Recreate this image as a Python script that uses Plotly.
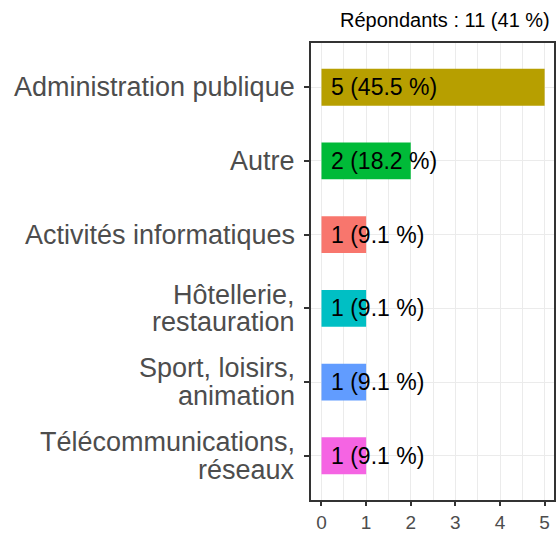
import plotly.graph_objects as go

categories = ["Administration publique", "Autre", "Activités informatiques",
              "Hôtellerie,<br>restauration", "Sport, loisirs,<br>animation",
              "Télécommunications,<br>réseaux"]
counts = [5, 2, 1, 1, 1, 1]
percents = [45.5, 18.2, 9.1, 9.1, 9.1, 9.1]
colors = ["#B79F00", "#00BA38", "#F8766D", "#00BFC4", "#619CFF", "#F564E3"]
title_text = "Répondants : 11 (41 %)"
x_ticks = [0, 1, 2, 3, 4, 5]

LINE_H = 27.5

fig = go.Figure()
fig.add_trace(go.Bar(
    x=counts, y=categories, orientation="h", width=0.5,
    marker=dict(color=colors, line=dict(width=0)),
    hoverinfo="skip", showlegend=False,
))

for c, n, p in zip(categories, counts, percents):
    fig.add_annotation(
        x=0, y=c, xref="x", yref="y", xanchor="left", yanchor="middle",
        xshift=8, showarrow=False,
        text=f"{n} ({p:.1f} %)",
        font=dict(family="Liberation Sans, Arial", size=23, color="#000000"),
    )

# category labels (with tighter line spacing than plotly's tick labels)
for c in categories:
    lines = c.split("<br>")
    k = len(lines)
    for i, ln in enumerate(lines):
        fig.add_annotation(
            x=0, y=c, xref="paper", yref="y", xanchor="right", yanchor="middle",
            xshift=-14, yshift=((k - 1) / 2 - i) * LINE_H, showarrow=False,
            text=ln,
            font=dict(family="Liberation Sans, Arial", size=27, color="#4D4D4D"),
        )

fig.add_annotation(
    x=1, y=1, xref="paper", yref="paper", xanchor="right", yanchor="bottom",
    xshift=-2, yshift=10, showarrow=False, text=title_text,
    font=dict(family="Liberation Sans, Arial", size=20, color="#000000"),
)

fig.update_layout(
    width=557, height=533,
    margin=dict(l=311, r=3, t=43, b=33, autoexpand=False),
    paper_bgcolor="white", plot_bgcolor="white",
    font=dict(family="Liberation Sans, Arial"),
    xaxis=dict(
        automargin=False,
        range=[-0.235, 5.21], tickvals=x_ticks, ticktext=[str(t) for t in x_ticks],
        showgrid=True, gridcolor="#EBEBEB", gridwidth=1.4,
        minor=dict(dtick=0.5, showgrid=True, gridcolor="#EBEBEB", gridwidth=0.7, tick0=0),
        zeroline=False, showline=True, linecolor="#333333", linewidth=1.5, mirror=True,
        ticks="outside", ticklen=4, tickwidth=1.5, tickcolor="#333333",
        tickfont=dict(size=19, color="#4D4D4D"), ticklabelstandoff=0,
    ),
    yaxis=dict(
        automargin=False,
        categoryorder="array", categoryarray=categories,
        range=[5.6, -0.6], showticklabels=False,
        showgrid=True, gridcolor="#EBEBEB", gridwidth=1.4,
        zeroline=False, showline=True, linecolor="#333333", linewidth=1.5, mirror=True,
        ticks="outside", ticklen=5, tickwidth=1.5, tickcolor="#333333",
    ),
)

fig.write_html("out.html", config={"displayModeBar": False},
               post_script="document.body.style.margin='0';document.body.style.padding='0';")
